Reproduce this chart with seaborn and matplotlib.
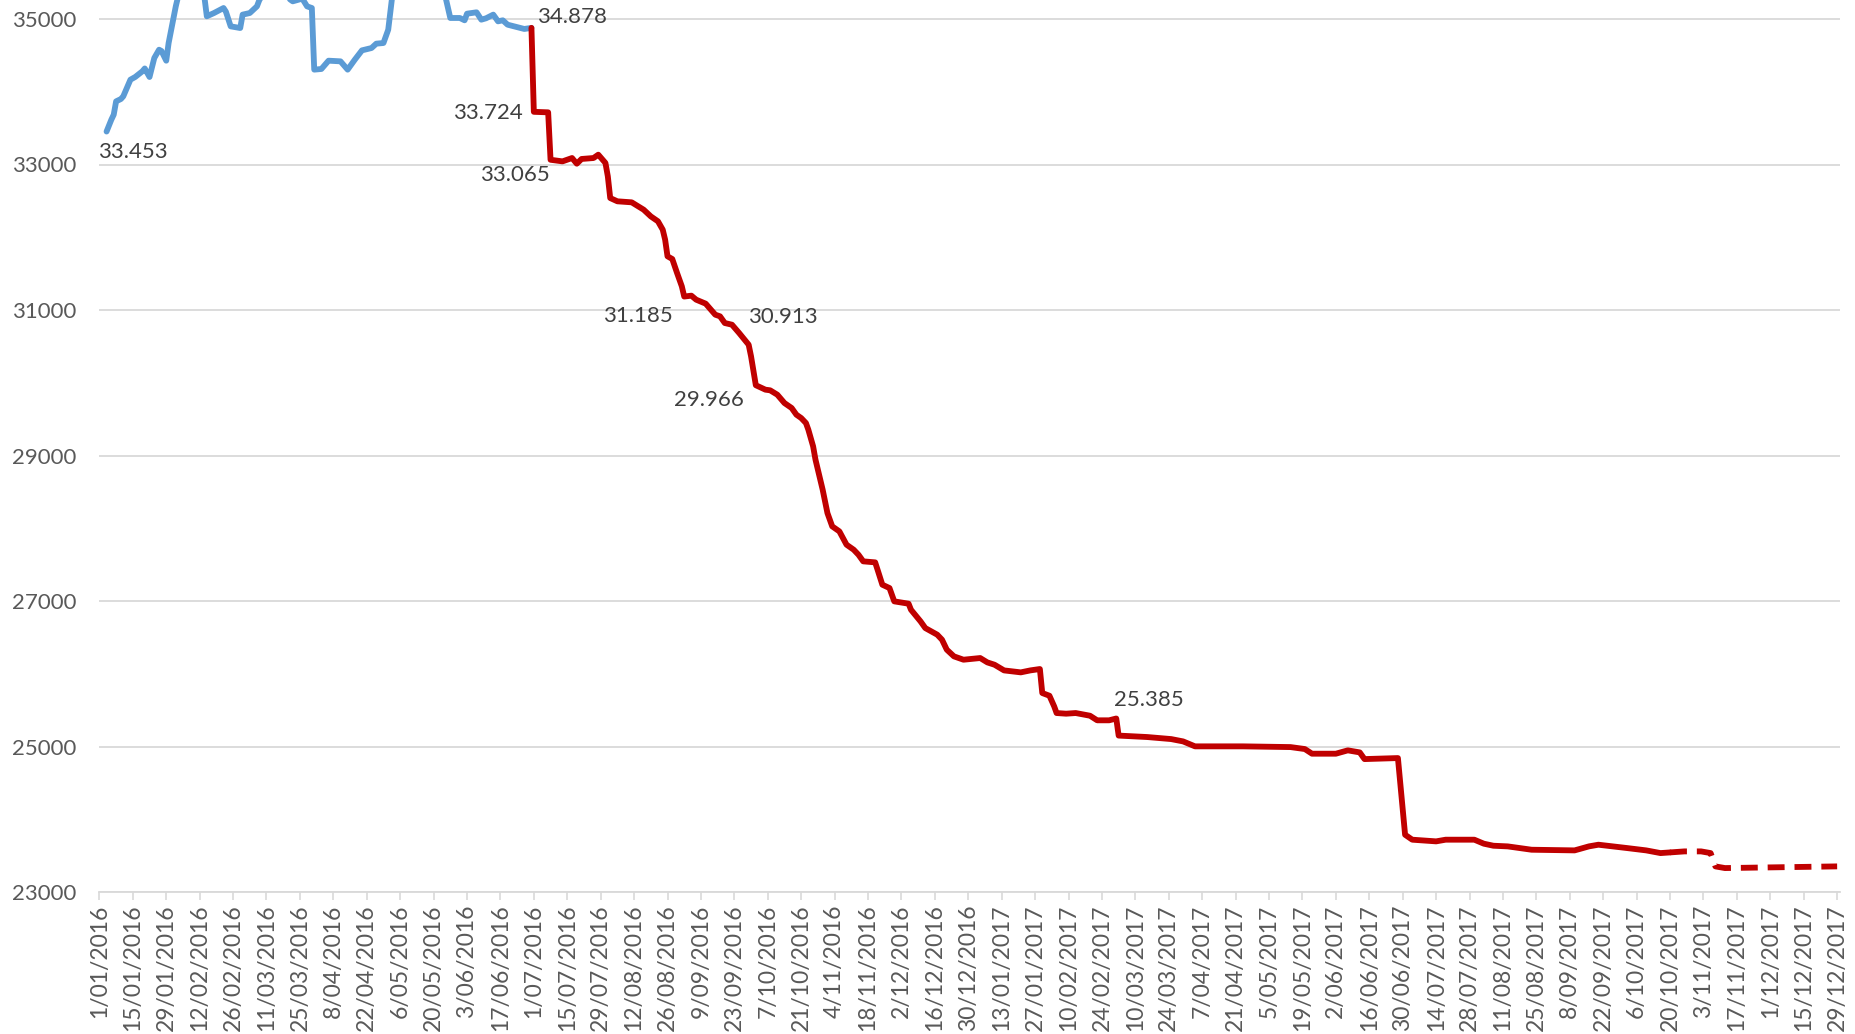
import pandas as pd
import numpy as np
import seaborn as sns
import matplotlib.pyplot as plt
import matplotlib.dates as mdates
from matplotlib.ticker import FixedLocator

# ── 0. Style ──────────────────────────────────────────────────────────────────
sns.set_theme(style="white")
plt.rcParams["font.family"] = ["Lato", "DejaVu Sans"]
BLUE = "#5B9BD5"
RED = "#C00000"
GRID = "#D9D9D9"
TICK_TXT = "#595959"
LABEL_TXT = "#404040"

# ── 1. Data ───────────────────────────────────────────────────────────────────
blue_dates = [
    "2016-01-04", "2016-01-06", "2016-01-07", "2016-01-08", "2016-01-10",
    "2016-01-11", "2016-01-14", "2016-01-16", "2016-01-19", "2016-01-20",
    "2016-01-22", "2016-01-24", "2016-01-26", "2016-01-27", "2016-01-29",
    "2016-01-30", "2016-02-02", "2016-02-04", "2016-02-08", "2016-02-12",
    "2016-02-14", "2016-02-15", "2016-02-18", "2016-02-22", "2016-02-23",
    "2016-02-25", "2016-02-29", "2016-03-01", "2016-03-04", "2016-03-07",
    "2016-03-08", "2016-03-12", "2016-03-17", "2016-03-21", "2016-03-22",
    "2016-03-26", "2016-03-28", "2016-03-30", "2016-03-31", "2016-04-03",
    "2016-04-06", "2016-04-11", "2016-04-14", "2016-04-17", "2016-04-20",
    "2016-04-24", "2016-04-26", "2016-04-29", "2016-05-01", "2016-05-03",
    "2016-05-10", "2016-05-20", "2016-05-25", "2016-05-27", "2016-05-31",
    "2016-06-02", "2016-06-03", "2016-06-07", "2016-06-09", "2016-06-11",
    "2016-06-14", "2016-06-16", "2016-06-18", "2016-06-20", "2016-06-27",
    "2016-06-30",
]
blue_values = [
    33453, 33616, 33685, 33868, 33900,
    33937, 34166, 34203, 34281, 34320,
    34203, 34464, 34578, 34560, 34427,
    34670, 35174, 35450, 35500, 35350,
    35300, 35037, 35082, 35151, 35100,
    34899, 34876, 35060, 35082, 35174,
    35260, 35450, 35400, 35266, 35243,
    35280, 35174, 35151, 34304, 34313,
    34427, 34418, 34304, 34441, 34569,
    34601, 34661, 34670, 34853, 35400,
    35500, 35600, 35300, 35014, 35014,
    34982, 35073, 35092, 34991, 35010,
    35060, 34968, 34982, 34922, 34863,
    34878,
]

red_dates = [
    "2016-06-30", "2016-07-01", "2016-07-07", "2016-07-08", "2016-07-13",
    "2016-07-17", "2016-07-19", "2016-07-21", "2016-07-26", "2016-07-28",
    "2016-07-31", "2016-08-01", "2016-08-02", "2016-08-05", "2016-08-11",
    "2016-08-16", "2016-08-19", "2016-08-22", "2016-08-24", "2016-08-25",
    "2016-08-26", "2016-08-28", "2016-08-30", "2016-09-01", "2016-09-02",
    "2016-09-05", "2016-09-07", "2016-09-11", "2016-09-15", "2016-09-17",
    "2016-09-19", "2016-09-22", "2016-09-25", "2016-09-29", "2016-09-30",
    "2016-10-02", "2016-10-06", "2016-10-08", "2016-10-11", "2016-10-14",
    "2016-10-17", "2016-10-19", "2016-10-21", "2016-10-23", "2016-10-24",
    "2016-10-26", "2016-10-27", "2016-10-30", "2016-11-01", "2016-11-03",
    "2016-11-06", "2016-11-09", "2016-11-12", "2016-11-14", "2016-11-16",
    "2016-11-21", "2016-11-22", "2016-11-24", "2016-11-27", "2016-11-29",
    "2016-12-05", "2016-12-06", "2016-12-10", "2016-12-12", "2016-12-17",
    "2016-12-19", "2016-12-21", "2016-12-24", "2016-12-28", "2017-01-04",
    "2017-01-07", "2017-01-10", "2017-01-14", "2017-01-21", "2017-01-25",
    "2017-01-29", "2017-01-30", "2017-02-02", "2017-02-04", "2017-02-05",
    "2017-02-09", "2017-02-13", "2017-02-19", "2017-02-22", "2017-02-27",
    "2017-03-02", "2017-03-03", "2017-03-15", "2017-03-25", "2017-03-30",
    "2017-04-04", "2017-04-24", "2017-05-14", "2017-05-20", "2017-05-23",
    "2017-06-02", "2017-06-07", "2017-06-12", "2017-06-14", "2017-06-28",
    "2017-07-01", "2017-07-04", "2017-07-14", "2017-07-18", "2017-07-30",
    "2017-08-03", "2017-08-07", "2017-08-13", "2017-08-23", "2017-09-10",
    "2017-09-12", "2017-09-16", "2017-09-20", "2017-10-02", "2017-10-10",
    "2017-10-16", "2017-10-20",
]
red_values = [
    34878, 33724, 33717, 33065, 33043,
    33089, 33011, 33076, 33089, 33135,
    33021, 32837, 32539, 32494, 32480,
    32379, 32287, 32219, 32104, 31967,
    31738, 31701, 31509, 31325, 31185,
    31197, 31142, 31087, 30936, 30913,
    30821, 30798, 30684, 30523, 30363,
    29966, 29905, 29896, 29836, 29721,
    29653, 29561, 29515, 29446, 29355,
    29126, 28942, 28530, 28209, 28026,
    27957, 27774, 27705, 27636, 27545,
    27531, 27430, 27224, 27178, 26995,
    26963, 26880, 26720, 26628, 26537,
    26468, 26331, 26239, 26193, 26216,
    26156, 26124, 26046, 26019, 26046,
    26065, 25735, 25698, 25551, 25460,
    25451, 25460, 25423, 25360, 25360,
    25385, 25150, 25130, 25102, 25070,
    25002, 25002, 24992, 24965, 24901,
    24901, 24947, 24919, 24827, 24841,
    23787, 23719, 23696, 23719, 23719,
    23664, 23636, 23627, 23581, 23572,
    23590, 23627, 23650, 23604, 23572,
    23535, 23544,
]

forecast_dates = [
    "2017-10-20", "2017-10-26", "2017-11-02", "2017-11-06", "2017-11-08",
    "2017-11-12", "2017-12-29",
]
forecast_values = [23544, 23558, 23558, 23535, 23352, 23329, 23352]

label_dates = ["2016-01-04", "2016-06-30", "2016-07-01", "2016-07-08",
               "2016-09-02", "2016-09-17", "2016-10-02", "2017-03-02"]

y_ticks = [23000, 25000, 27000, 29000, 31000, 33000, 35000]

blue_df = pd.DataFrame({"fecha": pd.to_datetime(blue_dates), "valor": blue_values})
red_df = pd.DataFrame({"fecha": pd.to_datetime(red_dates), "valor": red_values})
fc_df = pd.DataFrame({"fecha": pd.to_datetime(forecast_dates), "valor": forecast_values})

# ── 2. Figure ─────────────────────────────────────────────────────────────────
W, H = 1855, 1034
fig = plt.figure(figsize=(W / 100, H / 100), dpi=100)
ax = fig.add_axes([99.4 / W, (H - 892) / H, (1840 - 99.4) / W, 892 / H])

LW = 4.2
line_kw = dict(linewidth=LW, solid_joinstyle="round", solid_capstyle="round")
sns.lineplot(data=blue_df, x="fecha", y="valor", color=BLUE, ax=ax, **line_kw)
sns.lineplot(data=red_df, x="fecha", y="valor", color=RED, ax=ax, **line_kw)
sns.lineplot(data=fc_df, x="fecha", y="valor", color=RED, ax=ax,
             linewidth=LW, linestyle=(0, (2.9, 1.7)))

# axes ranges
start = pd.Timestamp("2016-01-01")
end = pd.Timestamp("2017-12-29")
ax.set_xlim(mdates.date2num(start), mdates.date2num(end) + 1.2)
ax.set_ylim(23000, 23000 + 892 / 72.75 * 1000)

# x ticks every 14 days
x_ticks = pd.date_range(start, end, freq="14D")
ax.xaxis.set_major_locator(FixedLocator(mdates.date2num(x_ticks)))
ax.set_xticklabels([f"{d.day}/{d.month:02d}/{d.year}" for d in x_ticks],
                   rotation=90, fontsize=16.5, color=TICK_TXT)
ax.tick_params(axis="x", direction="out", length=6, width=1.2, color=GRID, pad=3,
               bottom=True)

ax.set_yticks(y_ticks)
ax.set_yticklabels([str(v) for v in y_ticks], fontsize=16, color=TICK_TXT)
ax.tick_params(axis="y", length=0, pad=16.5)

ax.grid(axis="y", color=GRID, linewidth=1.3)
ax.grid(axis="x", visible=False)
for side in ["left", "right", "top"]:
    ax.spines[side].set_visible(False)
ax.spines["bottom"].set_color(GRID)
ax.spines["bottom"].set_linewidth(1.3)
ax.set_xlabel("")
ax.set_ylabel("")

# data labels (offsets in pixels: right, down)
offsets = [(26, 20), (41, -10.5), (-46, 1.5), (-36, 15),
           (-46.5, 19), (63, 0.5), (-47, 14.5), (32.5, -18.5)]
series = pd.concat([blue_df, red_df]).drop_duplicates("fecha").set_index("fecha")["valor"]
for d, (dx, dy) in zip(label_dates, offsets):
    v = series[pd.Timestamp(d)]
    ax.annotate(f"{v / 1000:.3f}", xy=(mdates.date2num(pd.Timestamp(d)), v),
                xytext=(dx * 0.72, -dy * 0.72), textcoords="offset points",
                ha="center", va="center", fontsize=16, color=LABEL_TXT)

fig.savefig("out.png", dpi=100)
